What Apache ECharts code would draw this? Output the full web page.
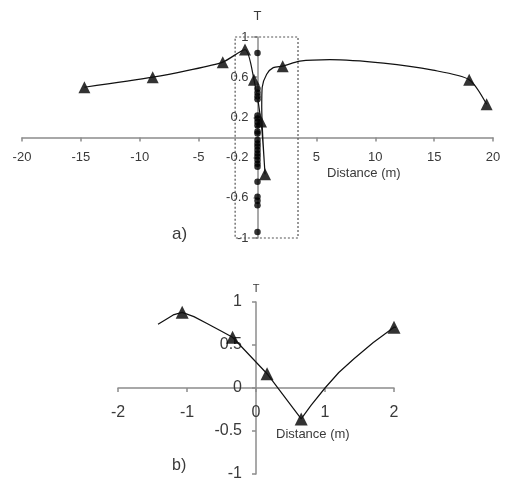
<!DOCTYPE html>
<html>
<head>
<meta charset="utf-8">
<script src="https://cdn.jsdelivr.net/npm/echarts@6/dist/echarts.min.js"></script>
<style>
  html, body { margin: 0; background: #fff; }
  #chart { width: 512px; height: 498px; }
</style>
</head>
<body>
<div id="chart"></div>
<script>
// a) full profile
const topTriX = [-14.7, -8.9, -2.95, -1.06, -0.3, 0.3, 0.64, 2.14, 17.98, 19.46]
const topTriY = [0.5, 0.6, 0.75, 0.875, 0.575, 0.16, -0.365, 0.71, 0.575, 0.33]
const topCurveX = [-14.7, -8.9, -6, -2.95, -1.06, -0.3, 0.3, 0.64, 0.45, 0.36, 0.4, 0.78, 1.34, 2.14, 3.6, 6.15, 10.7, 14.9, 17.98, 19.46]
const topCurveY = [0.5, 0.6, 0.665, 0.75, 0.875, 0.575, 0.16, -0.365, 0.0, 0.3, 0.5, 0.63, 0.695, 0.71, 0.76, 0.775, 0.74, 0.67, 0.575, 0.33]
const dotY = [0.84, 0.485, 0.445, 0.41, 0.38, 0.22, 0.19, 0.155, 0.12, 0.06, 0.04, -0.025, -0.06, -0.09,
  -0.125, -0.16, -0.19, -0.225, -0.26, -0.29, -0.44, -0.59, -0.63, -0.675, -0.94]
const zoomBox = [[-1.9, 1.085], [3.44, -1.065]]
const topXTicks = [-20, -15, -10, -5, 5, 10, 15, 20]
const topYTicks = [-1, -0.6, -0.2, 0.2, 0.6, 1]

// b) zoom on the centre
const botTriX = [-1.07, -0.34, 0.16, 0.655, 2.0]
const botTriY = [0.88, 0.59, 0.166, -0.36, 0.707]
const botCurveX = [-1.42, -1.3, -1.2, -1.07, -0.9, -0.71, -0.5, -0.34, 0.16, 0.655, 0.8, 1.0, 1.2, 1.42, 1.7, 2.0, 2.29, 2.58]
const botCurveY = [0.74, 0.8, 0.85, 0.88, 0.83, 0.75, 0.66, 0.59, 0.166, -0.36, -0.2, 0.0, 0.18, 0.34, 0.53, 0.707, 0.675, 0.64]
const botXTicks = [-2, -1, 0, 1, 2]
const botYTicks = [-1, -0.5, 0, 0.5, 1]

const pairs = (xs, ys) => xs.map((x, i) => [x, ys[i]])

const axisGray = '#8c8c8c'
const textGray = '#3a3a3a'
const font = 'Liberation Sans, Arial, sans-serif'

const gridTop = { left: 22, top: 37, width: 471, height: 201 }
const gridBot = { left: 118, top: 302, width: 276, height: 172 }

// axes cross at zero: shift them into the grid by hand
const zeroShift = (size, min, max) => -size * (0 - min) / (max - min)

function valueAxis(opts) {
  return {
    type: 'value',
    gridIndex: opts.grid,
    min: opts.min,
    max: opts.max,
    offset: opts.offset,
    name: opts.name || '',
    nameLocation: 'end',
    nameGap: opts.nameGap || 10,
    nameTextStyle: { color: textGray, fontSize: opts.nameSize || 13, fontFamily: font },
    splitLine: { show: false },
    axisLine: { show: true, onZero: false, lineStyle: { color: axisGray, width: 1.5 } },
    axisTick: { show: true, length: 4, customValues: opts.ticks, lineStyle: { color: axisGray, width: 1.5 } },
    axisLabel: {
      customValues: opts.ticks,
      hideOverlap: false,
      margin: opts.margin,
      color: textGray,
      fontSize: opts.fontSize,
      fontFamily: font,
    },
  }
}

const chart = echarts.init(document.getElementById('chart'))

chart.setOption({
  animation: false,
  backgroundColor: '#fff',
  grid: [
    Object.assign({ outerBoundsMode: 'none' }, gridTop),
    Object.assign({ outerBoundsMode: 'none' }, gridBot),
  ],
  xAxis: [
    valueAxis({ grid: 0, min: -20, max: 20, ticks: topXTicks, margin: 13, fontSize: 13,
      offset: zeroShift(gridTop.height, -1, 1) }),
    valueAxis({ grid: 1, min: -2, max: 2, ticks: botXTicks, margin: 17, fontSize: 16,
      offset: zeroShift(gridBot.height, -1, 1) }),
  ],
  yAxis: [
    valueAxis({ grid: 0, min: -1, max: 1, ticks: topYTicks, margin: 9, fontSize: 13, name: 'T', nameGap: 14,
      offset: zeroShift(gridTop.width, -20, 20) }),
    valueAxis({ grid: 1, min: -1, max: 1, ticks: botYTicks, margin: 14, fontSize: 16, name: 'T', nameGap: 8, nameSize: 11,
      offset: zeroShift(gridBot.width, -2, 2) }),
  ],
  graphic: [
    { type: 'text', left: 327, top: 167, style: { text: 'Distance (m)', fill: textGray, font: '13px ' + font } },
    { type: 'text', left: 276, top: 428, style: { text: 'Distance (m)', fill: textGray, font: '13px ' + font } },
    { type: 'text', left: 172, top: 226, style: { text: 'a)', fill: textGray, font: '17px ' + font } },
    { type: 'text', left: 172, top: 458, style: { text: 'b)', fill: textGray, font: '16px ' + font } },
  ],
  series: [
    {
      type: 'line',
      xAxisIndex: 0,
      yAxisIndex: 0,
      data: pairs(topCurveX, topCurveY),
      smooth: 0.25,
      showSymbol: false,
      clip: false,
      lineStyle: { color: '#111', width: 1.2 },
      markArea: {
        silent: true,
        itemStyle: { color: 'rgba(0,0,0,0)', borderColor: '#555', borderWidth: 1.2, borderType: [2, 2] },
        data: [[{ coord: zoomBox[0] }, { coord: zoomBox[1] }]],
      },
    },
    {
      type: 'scatter',
      xAxisIndex: 0,
      yAxisIndex: 0,
      data: dotY.map((y) => [0, y]),
      symbol: 'circle',
      symbolSize: 6.5,
      itemStyle: { color: '#000' },
    },
    {
      type: 'scatter',
      xAxisIndex: 0,
      yAxisIndex: 0,
      data: pairs(topTriX, topTriY),
      symbol: 'triangle',
      symbolSize: 12,
      itemStyle: { color: '#000' },
    },
    {
      type: 'line',
      xAxisIndex: 1,
      yAxisIndex: 1,
      data: pairs(botCurveX, botCurveY),
      smooth: false,
      showSymbol: false,
      clip: false,
      lineStyle: { color: '#111', width: 1.2 },
    },
    {
      type: 'scatter',
      xAxisIndex: 1,
      yAxisIndex: 1,
      data: pairs(botTriX, botTriY),
      symbol: 'triangle',
      symbolSize: 13,
      itemStyle: { color: '#000' },
    },
  ],
})
</script>
</body>
</html>
